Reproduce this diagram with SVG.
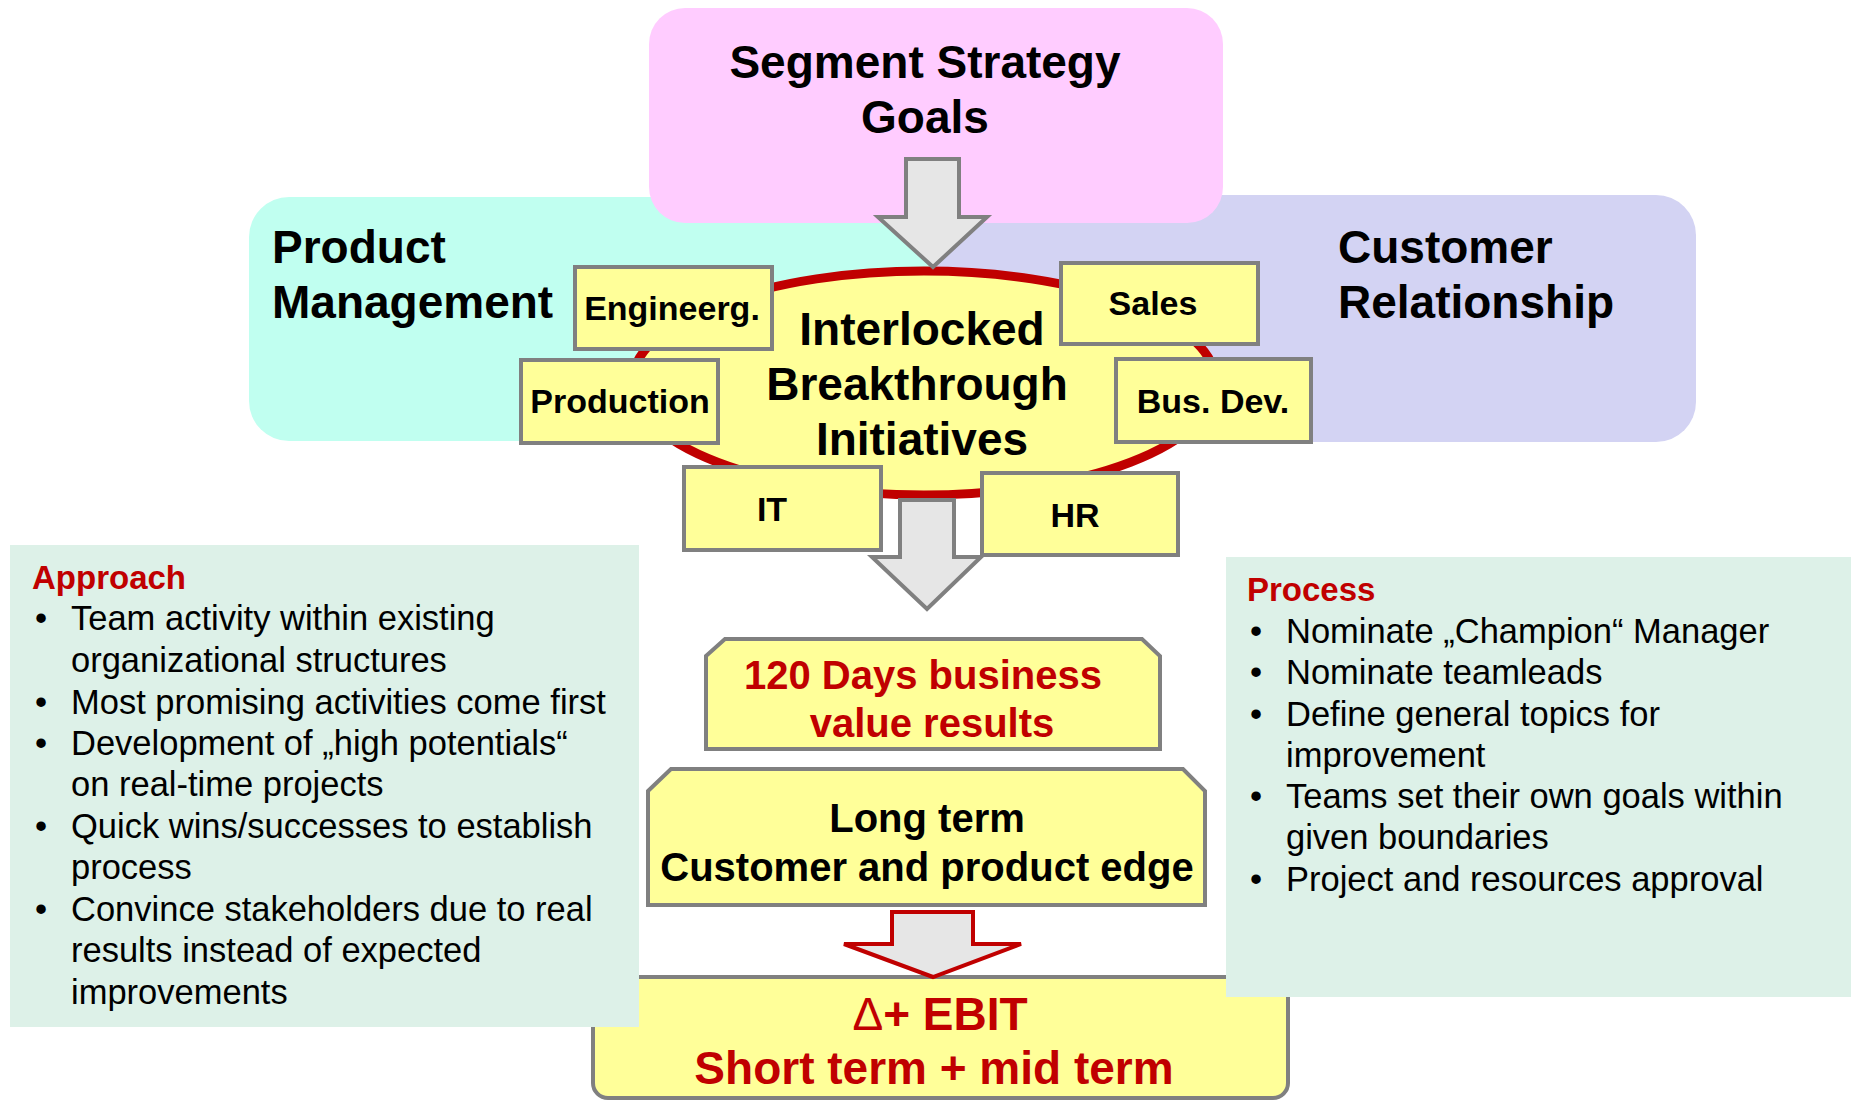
<svg xmlns="http://www.w3.org/2000/svg" width="1851" height="1101" viewBox="0 0 1851 1101">
  <style>
    text { font-family: "Liberation Sans", Arial, sans-serif; }
    .h { font-weight: bold; font-size: 46px; fill: #000; }
    .lbl { font-weight: bold; font-size: 34px; fill: #000; text-anchor: middle; }
    .mid { font-weight: bold; font-size: 40px; text-anchor: middle; }
    .red { fill: #c00000; }
    .blk { fill: #000; }
    .tag { fill: #ffff99; stroke: #808080; stroke-width: 4; }
    .panel { fill: #ddf1e8; }
    .body { font-size: 34.5px; fill: #000; }
    .ttl { font-weight: bold; font-size: 33px; fill: #c00000; }
    .arrow { fill: #e6e6e6; stroke: #808080; stroke-width: 4; stroke-linejoin: miter; }
  </style>

  <!-- background areas -->
  <g id="product-management">
    <rect x="249" y="197" width="760" height="244" rx="40" ry="40" fill="#c0fff0"/>
    <text class="h" x="272" y="263">Product</text>
    <text class="h" x="272" y="318">Management</text>
  </g>
  <g id="customer-relationship">
    <path d="M933,195 H1656 A40,40 0 0 1 1696,235 V402 A40,40 0 0 1 1656,442 H933 Z" fill="#d3d3f3"/>
    <text class="h" x="1338" y="263">Customer</text>
    <text class="h" x="1338" y="318">Relationship</text>
  </g>
  <g id="segment-strategy">
    <rect x="649" y="8" width="574" height="215" rx="36" ry="36" fill="#ffccff"/>
    <text class="h" x="925" y="78" text-anchor="middle">Segment Strategy</text>
    <text class="h" x="925" y="133" text-anchor="middle">Goals</text>
  </g>

  <!-- central initiative -->
  <g id="initiatives">
    <ellipse cx="924" cy="383" rx="292" ry="112" fill="#ffff99" stroke="#c00000" stroke-width="9"/>
    <text class="h" x="922" y="345" text-anchor="middle">Interlocked</text>
    <text class="h" x="917" y="400" text-anchor="middle">Breakthrough</text>
    <text class="h" x="922" y="455" text-anchor="middle">Initiatives</text>
  </g>

  <g id="engineering">
    <rect class="tag" x="575" y="267" width="197" height="82"/>
    <text class="lbl" x="672" y="320">Engineerg.</text>
  </g>
  <g id="production">
    <rect class="tag" x="521" y="360" width="197" height="83"/>
    <text class="lbl" x="620" y="413">Production</text>
  </g>
  <g id="it">
    <rect class="tag" x="684" y="467" width="197" height="83"/>
    <text class="lbl" x="772" y="521">IT</text>
  </g>
  <g id="sales">
    <rect class="tag" x="1061" y="263" width="197" height="81"/>
    <text class="lbl" x="1153" y="315">Sales</text>
  </g>
  <g id="bus-dev">
    <rect class="tag" x="1116" y="359" width="195" height="83"/>
    <text class="lbl" x="1213" y="413">Bus. Dev.</text>
  </g>
  <g id="hr">
    <rect class="tag" x="982" y="473" width="196" height="82"/>
    <text class="lbl" x="1075" y="527">HR</text>
  </g>

  <!-- results -->
  <g id="days-120">
    <path class="tag" d="M706,656 L725,639 H1142 L1160,656 V749 H706 Z"/>
    <text class="mid red" x="923" y="689">120 Days business</text>
    <text class="mid red" x="932" y="737">value results</text>
  </g>
  <g id="long-term">
    <path class="tag" d="M648,791 L671,769 H1183 L1205,791 V905 H648 Z"/>
    <text class="mid blk" x="927" y="832">Long term</text>
    <text class="mid blk" x="927" y="881">Customer and product edge</text>
  </g>
  <g id="ebit">
    <rect class="tag" x="593" y="977" width="695" height="121" rx="15" ry="15"/>
    <text class="h red" x="940" y="1030" text-anchor="middle"><tspan font-weight="normal">Δ</tspan>+ EBIT</text>
    <text class="h red" x="934" y="1084" text-anchor="middle">Short term + mid term</text>
  </g>

  <!-- side panels -->
  <g id="approach">
    <rect class="panel" x="10" y="545" width="629" height="482"/>
    <text class="ttl" x="32" y="589">Approach</text>
    <g class="body">
      <text x="35" y="630">•</text>
      <text x="71" y="630">Team activity within existing</text>
      <text x="71" y="672">organizational structures</text>
      <text x="35" y="714">•</text>
      <text x="71" y="714">Most promising activities come first</text>
      <text x="35" y="755">•</text>
      <text x="71" y="755">Development of „high potentials“</text>
      <text x="71" y="796">on real-time projects</text>
      <text x="35" y="838">•</text>
      <text x="71" y="838">Quick wins/successes to establish</text>
      <text x="71" y="879">process</text>
      <text x="35" y="921">•</text>
      <text x="71" y="921">Convince stakeholders due to real</text>
      <text x="71" y="962">results instead of expected</text>
      <text x="71" y="1004">improvements</text>
    </g>
  </g>
  <g id="process">
    <rect class="panel" x="1226" y="557" width="625" height="440"/>
    <text class="ttl" x="1247" y="601">Process</text>
    <g class="body">
      <text x="1250" y="643">•</text>
      <text x="1286" y="643">Nominate „Champion“ Manager</text>
      <text x="1250" y="684">•</text>
      <text x="1286" y="684">Nominate teamleads</text>
      <text x="1250" y="726">•</text>
      <text x="1286" y="726">Define general topics for</text>
      <text x="1286" y="767">improvement</text>
      <text x="1250" y="808">•</text>
      <text x="1286" y="808">Teams set their own goals within</text>
      <text x="1286" y="849">given boundaries</text>
      <text x="1250" y="891">•</text>
      <text x="1286" y="891">Project and resources approval</text>
    </g>
  </g>

  <!-- block arrows -->
  <g id="connectors">
    <path class="arrow" d="M906,159 H959 V217 H987 L933,267 L878,217 H906 Z"/>
    <path class="arrow" d="M900,500 H954 V557 H981 L927,609 L872,557 H900 Z"/>
    <path class="arrow" style="stroke:#c00000" d="M892,912 H973 V944 H1021 L933,977 L844,944 H892 Z"/>
  </g>
</svg>
